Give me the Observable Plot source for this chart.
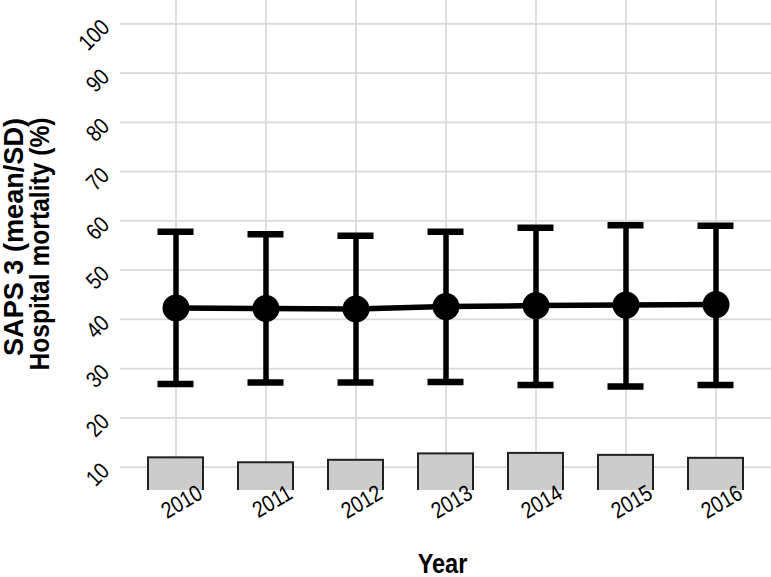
<!DOCTYPE html>
<html><head><meta charset="utf-8">
<script src="https://cdn.jsdelivr.net/npm/d3@7"></script>
<script src="https://cdn.jsdelivr.net/npm/@observablehq/plot@0.6"></script>
<style>
body{margin:0;background:#fff;}
#chart svg{display:block;}
</style></head><body><div id="chart"></div>
<script>
const years = ["2010", "2011", "2012", "2013", "2014", "2015", "2016"];
const sapsMean = [42.3, 42.2, 42.1, 42.6, 42.8, 42.9, 43.0];
const sapsLow = [26.9, 27.2, 27.2, 27.3, 26.7, 26.4, 26.7];
const sapsHigh = [57.8, 57.3, 57.0, 57.8, 58.6, 59.1, 59.0];
const mortality = [11.9, 10.9, 11.4, 12.7, 12.8, 12.4, 11.8];
const yTicks = [10, 20, 30, 40, 50, 60, 70, 80, 90, 100];
const yTitleLines = ["SAPS 3 (mean/SD)", "Hospital mortality (%)"];
const xTitle = "Year";

const data = years.map((year, i) => ({year, mean: sapsMean[i], low: sapsLow[i], high: sapsHigh[i], mort: mortality[i]}));
const font = '"Liberation Sans", Arial, sans-serif';
const grid = "#d9d9d9";

const chart = Plot.plot({
  width: 771, height: 577,
  marginLeft: 120, marginRight: 0, marginTop: 0, marginBottom: 87,
  style: {fontFamily: font, background: "#fff", color: "#000"},
  x: {type: "band", domain: years, paddingInner: 0.39, paddingOuter: 0.295, axis: null},
  y: {domain: [5.27, 104.73], axis: null},
  marks: [
    Plot.gridY(yTicks, {stroke: grid, strokeOpacity: 1, strokeWidth: 1.7}),
    Plot.gridX(years, {stroke: grid, strokeOpacity: 1, strokeWidth: 1.7}),
    Plot.barY(data, {x: "year", y1: 0, y2: "mort", fill: "#cccccc", stroke: "#222", strokeWidth: 2, clip: true}),
    Plot.line(data, {x: "year", y: "mean", stroke: "#000", strokeWidth: 5.5}),
    Plot.ruleX(data, {x: "year", y1: "low", y2: "high", stroke: "#000", strokeWidth: 5.5}),
    Plot.tickY(data, {x: "year", y: "low", stroke: "#000", strokeWidth: 6.5, insetLeft: 9.5, insetRight: 9.5}),
    Plot.tickY(data, {x: "year", y: "high", stroke: "#000", strokeWidth: 6.5, insetLeft: 9.5, insetRight: 9.5}),
    Plot.dot(data, {x: "year", y: "mean", r: 13.5, fill: "#000"}),
    Plot.text(yTicks, {y: d => d, text: d => String(d), frameAnchor: "left", dx: -15, dy: 0, rotate: -45, textAnchor: "end", lineAnchor: "middle", fontSize: 23, fill: "#000", className: "narrow"}),
    Plot.text(years, {x: d => d, text: d => d, frameAnchor: "bottom", dx: 20, dy: -7, rotate: -30, textAnchor: "end", lineAnchor: "top", fontSize: 23, fill: "#000", className: "narrow"}),
    Plot.text([xTitle], {text: d => d, frameAnchor: "bottom", dx: -3.5, dy: 82, lineAnchor: "bottom", fontSize: 28, fontWeight: "bold", fill: "#000", className: "narrow"}),
    Plot.text([yTitleLines[0]], {text: d => d, frameAnchor: "left", dx: -97.5, dy: -8.5, rotate: -90, textAnchor: "middle", lineAnchor: "bottom", fontSize: 27, fontWeight: "bold", fill: "#000", className: "ytitle1"}),
    Plot.text([yTitleLines[1]], {text: d => d, frameAnchor: "left", dx: -71.5, dy: -1.5, rotate: -90, textAnchor: "middle", lineAnchor: "bottom", fontSize: 27, fontWeight: "bold", fill: "#000", className: "ytitle2"})
  ]
});
document.getElementById("chart").appendChild(chart);

// Condense the type to mimic a narrow face (no narrow font installed)
d3.select(chart).selectAll(".narrow text").each(function() {
  const w = this.getComputedTextLength();
  this.setAttribute("textLength", (w * 0.84).toFixed(1));
  this.setAttribute("lengthAdjust", "spacingAndGlyphs");
});
d3.select(chart).selectAll(".ytitle1 text").attr("textLength", 238).attr("lengthAdjust", "spacingAndGlyphs");
d3.select(chart).selectAll(".ytitle2 text").attr("textLength", 253).attr("lengthAdjust", "spacingAndGlyphs");
</script>
</body></html>
